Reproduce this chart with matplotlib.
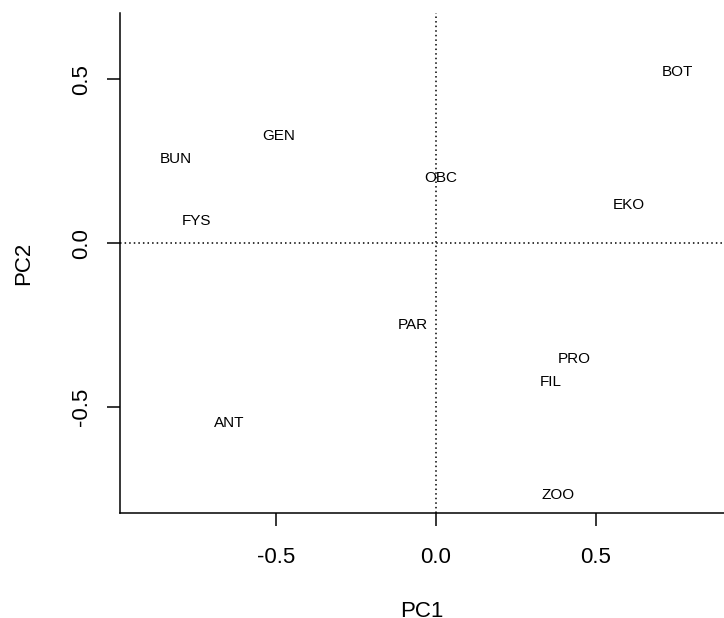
import matplotlib
matplotlib.use("Agg")
import matplotlib.pyplot as plt

# PCA scores
labels = ["BOT", "GEN", "BUN", "OBC", "EKO", "FYS", "PAR", "PRO", "FIL", "ANT", "ZOO"]
pc1 = [0.756, -0.491, -0.812, 0.014, 0.603, -0.747, -0.072, 0.433, 0.359, -0.647, 0.381]
pc2 = [0.528, 0.333, 0.261, 0.205, 0.122, 0.072, -0.244, -0.348, -0.418, -0.544, -0.764]

ticks = [-0.5, 0.0, 0.5]
tick_labels = ["-0.5", "0.0", "0.5"]

plt.rcParams["font.family"] = ["Liberation Sans", "DejaVu Sans"]
plt.rcParams["axes.unicode_minus"] = False

fig = plt.figure(figsize=(7.24, 6.18), dpi=100)
W, H = 724, 618
ax = fig.add_axes([120 / W, (H - 513) / H, 1 - 120 / W, (513 - 13) / H])

for lab, x, y in zip(labels, pc1, pc2):
    ax.text(x, y, lab, ha="center", va="center_baseline", fontsize=11, color="black")

ax.axhline(0, color="black", linestyle=(0, (1, 2)), linewidth=1.1)
ax.axvline(0, color="black", linestyle=(0, (1, 2)), linewidth=1.1)

ax.set_xlim(-0.9875, 0.9)
ax.set_ylim(-0.824, 0.703)

for side in ["top", "right"]:
    ax.spines[side].set_visible(False)
for side in ["left", "bottom"]:
    ax.spines[side].set_linewidth(1.1)
    ax.spines[side].set_color("black")

ax.set_xticks(ticks)
ax.set_xticklabels(tick_labels)
ax.set_yticks(ticks)
ax.set_yticklabels(tick_labels, rotation=90, va="center")
ax.tick_params(axis="both", length=9.4, width=1.1, labelsize=16, color="black")
ax.tick_params(axis="x", pad=15)
ax.tick_params(axis="y", pad=11)

# the reference image is cropped just below the PC1 label
ax.set_xlabel("PC1", fontsize=16, labelpad=24)
ax.set_ylabel("PC2", fontsize=16, labelpad=26)

fig.savefig("out.png", dpi=100)
